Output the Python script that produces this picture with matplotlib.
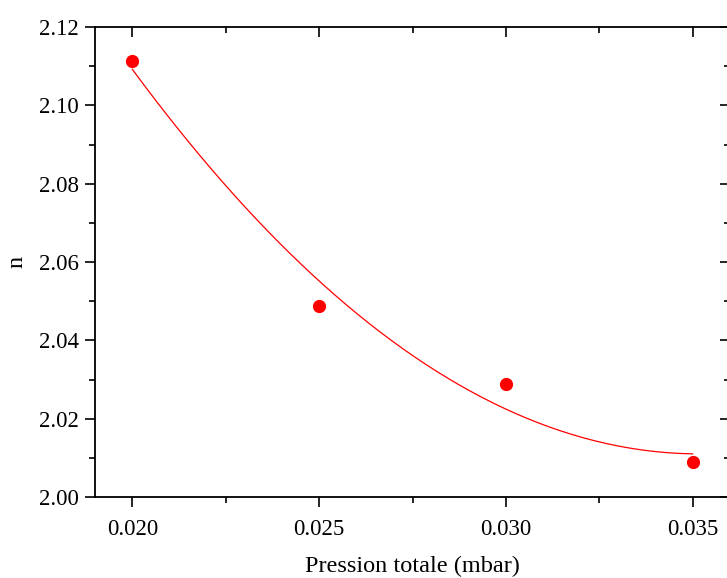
import numpy as np
import matplotlib
matplotlib.use("Agg")
import matplotlib.pyplot as plt
from matplotlib.ticker import MultipleLocator

# data
pression = [0.020, 0.025, 0.030, 0.035]
n_vals = [2.1113, 2.0488, 2.0288, 2.0089]

# quadratic fit, as in the original (Origin polynomial fit)
coef = np.polyfit(pression, n_vals, 2)
xf = np.linspace(pression[0], pression[-1], 200)
yf = np.polyval(coef, xf)

plt.rcParams['font.family'] = ['Liberation Serif', 'DejaVu Serif']

fig = plt.figure(figsize=(7.27, 5.78), dpi=100)
ax = fig.add_axes([95/727, 1 - 497/578, 635/727, 470/578])

ax.plot(xf, yf, color='red', lw=0.9)
ax.plot(pression, n_vals, 'o', color='red', ms=8.5, mec='red')

ax.set_xlim(0.019, 0.036)
ax.set_ylim(2.00, 2.12)
ax.xaxis.set_major_locator(MultipleLocator(0.005))
ax.xaxis.set_minor_locator(MultipleLocator(0.0025))
ax.yaxis.set_major_locator(MultipleLocator(0.02))
ax.yaxis.set_minor_locator(MultipleLocator(0.01))
ax.xaxis.set_major_formatter(plt.FormatStrFormatter('%.3f'))
ax.yaxis.set_major_formatter(plt.FormatStrFormatter('%.2f'))

for s in ax.spines.values():
    s.set_linewidth(1.3)

ax.tick_params(which='both', width=1.2, labelsize=16.5, colors='black')
ax.tick_params(which='major', length=7.5)
ax.tick_params(which='minor', length=4)
ax.tick_params(axis='x', which='both', bottom=True, top=True, direction='out', pad=8)
ax.tick_params(axis='y', which='both', left=True, right=True, direction='out', pad=4)
# top and right ticks point inward
for t in ax.xaxis.get_major_ticks() + ax.xaxis.get_minor_ticks():
    t.tick2line.set_marker(3)
for t in ax.yaxis.get_major_ticks() + ax.yaxis.get_minor_ticks():
    t.tick2line.set_marker(0)

ax.set_xlabel('Pression totale (mbar)', fontsize=17.5, labelpad=11.5)
ax.set_ylabel('n', fontsize=17.5, labelpad=8)

fig.savefig('out.png', dpi=100)
